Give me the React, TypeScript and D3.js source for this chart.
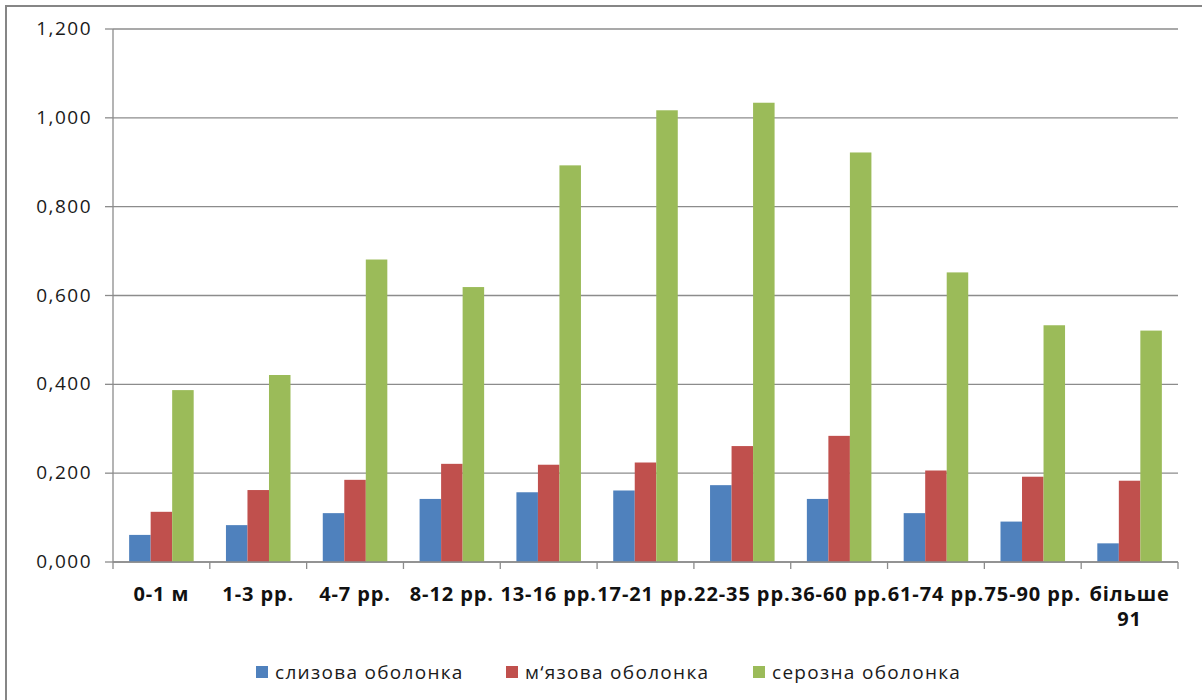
import React from "react";
import * as d3 from "d3";

// Age groups along the category axis
const categories: string[][] = [
  ["0-1 м"],
  ["1-3 рр."],
  ["4-7 рр."],
  ["8-12 рр."],
  ["13-16 рр."],
  ["17-21 рр."],
  ["22-35 рр."],
  ["36-60 рр."],
  ["61-74 рр."],
  ["75-90 рр."],
  ["більше", "91"],
];

const seriesNames = ["слизова оболонка", "м‘язова оболонка", "серозна оболонка"];
const seriesColors = ["#4F81BD", "#C0504D", "#9BBB59"];

const mucosa = [0.061, 0.083, 0.11, 0.142, 0.157, 0.161, 0.173, 0.142, 0.11, 0.091, 0.042];
const muscular = [0.113, 0.162, 0.185, 0.221, 0.219, 0.224, 0.261, 0.284, 0.206, 0.192, 0.183];
const serosa = [0.387, 0.421, 0.681, 0.619, 0.893, 1.017, 1.034, 0.922, 0.652, 0.533, 0.521];

const yTicks = [0, 0.2, 0.4, 0.6, 0.8, 1.0, 1.2];

const W = 1202;
const H = 700;
const left = 113;
const right = 1178;
const top = 29;
const bottom = 562;
const FONT = "'Open Sans', 'DejaVu Sans', sans-serif";
const GRID = "#8c8c8c";

export default function App() {
  const series = [mucosa, muscular, serosa];
  const catKeys = categories.map((c) => c.join(" "));
  const x = d3.scaleBand<string>().domain(catKeys).range([left, right]).paddingInner(0).paddingOuter(0);
  // Excel-style 150% gap width: bars occupy 3/(3+1.5) of each category
  const groupInner = x.bandwidth() * (3 / 4.5);
  const x1 = d3
    .scaleBand<number>()
    .domain([0, 1, 2])
    .range([(x.bandwidth() - groupInner) / 2, (x.bandwidth() + groupInner) / 2])
    .padding(0);
  const y = d3.scaleLinear().domain([0, 1.2]).range([bottom, top]);
  const fmt = (v: number) => d3.format(".3f")(v).replace(".", ",");

  const boundaries = d3.range(categories.length + 1).map((i) => left + i * x.step());

  const legendX = [256, 506, 753];

  return (
    <svg
      width={W}
      height={H}
      style={{ position: "absolute", left: 0, top: 0, background: "#fff" }}
      fontFamily={FONT}
    >
      <rect x={6} y={6} width={W} height={H} fill="#fff" stroke="#868686" strokeWidth={2} />

      {/* horizontal gridlines and y ticks */}
      {yTicks.map((t) => (
        <g key={t}>
          <line x1={left} x2={right} y1={y(t)} y2={y(t)} stroke={GRID} strokeWidth={1.3} />
          <line x1={left - 8} x2={left} y1={y(t)} y2={y(t)} stroke={GRID} strokeWidth={1.3} />
          <text
            x={92}
            y={y(t) + 6}
            textAnchor="end"
            fontSize={19}
            letterSpacing={1.5}
            fill="#1a1a1a"
          >
            {fmt(t)}
          </text>
        </g>
      ))}

      {/* value axis */}
      <line x1={left} x2={left} y1={top} y2={bottom} stroke={GRID} strokeWidth={1.3} />

      {/* bars */}
      {categories.map((c, i) => (
        <g key={catKeys[i]} transform={`translate(${x(catKeys[i])},0)`}>
          {series.map((s, k) => (
            <rect
              key={k}
              x={x1(k)}
              y={y(s[i])}
              width={x1.bandwidth()}
              height={bottom - y(s[i])}
              fill={seriesColors[k]}
            />
          ))}
        </g>
      ))}

      {/* category axis */}
      <line x1={left} x2={right} y1={bottom} y2={bottom} stroke={GRID} strokeWidth={1.3} />
      {boundaries.map((b, i) => (
        <line key={i} x1={b} x2={b} y1={bottom} y2={bottom + 7} stroke={GRID} strokeWidth={1.3} />
      ))}
      {categories.map((c, i) => {
        const cx = (x(catKeys[i]) as number) + x.bandwidth() / 2;
        return (
          <text
            key={catKeys[i]}
            x={cx}
            y={601}
            textAnchor="middle"
            fontSize={20}
            fontWeight="bold"
            letterSpacing={0.9}
            fill="#111"
          >
            {c.map((line, j) => (
              <tspan key={j} x={cx} dy={j === 0 ? 0 : 25}>
                {line}
              </tspan>
            ))}
          </text>
        );
      })}

      {/* legend */}
      {seriesNames.map((n, k) => (
        <g key={n}>
          <rect x={legendX[k]} y={666} width={12} height={12} fill={seriesColors[k]} />
          <text x={legendX[k] + 19} y={679} fontSize={19} letterSpacing={1.3} fill="#1a1a1a">
            {n}
          </text>
        </g>
      ))}
    </svg>
  );
}
